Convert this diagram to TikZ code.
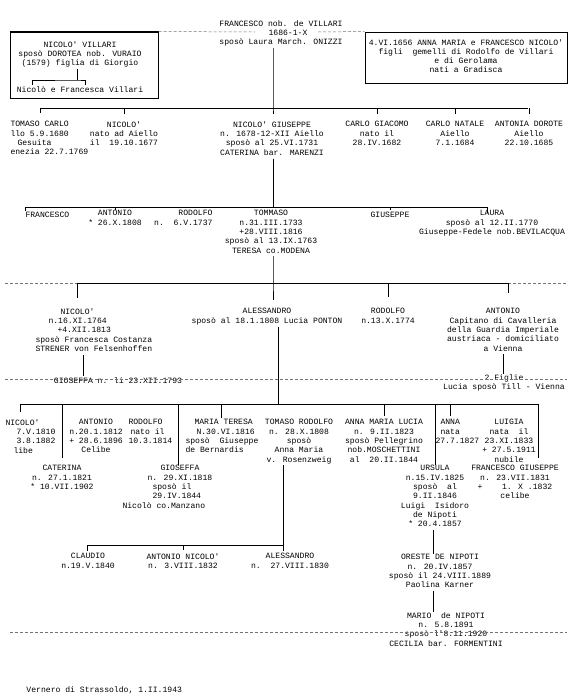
\documentclass[tikz,border=0pt]{standalone}
\usepackage{fontspec}
\newfontfamily\typewriter{Liberation Mono}
\newcommand{\scanfont}{\typewriter\fontsize{8.1}{9.3}\selectfont}
\usetikzlibrary{positioning}

\begin{document}
\begin{tikzpicture}[
        x=1pt, y=-1pt,
        every path/.style={line width=1pt}, % all connectors
        person/.style={font=\scanfont, align=center, anchor=north, inner sep=0pt, execute at begin node=\strut},
        personl/.style={person, align=left, anchor=north west},
        fold/.style={densely dashed, line width=0.5pt, black!55},
    ]
        \path[use as bounding box, fill=white] (0,0) rectangle (570,699);

        % Head of the family
        \node[person] (fran) at (281,20) {FRANCESCO nob. de VILLARI\\\hspace*{14pt}1686-1-X\\sposò Laura March. ONIZZI};

        % Left box
        \node[draw, minimum width=148pt, minimum height=66pt, inner sep=0pt] (lbox) at (84,65) {};
        \draw[line width=1.5pt] (lbox.north west) -- (lbox.north east);
        \node[person] (nv) at (80,41) {NICOLO' VILLARI\\sposò DOROTEA nob. VURAIO\\(1579) figlia di Giorgio};
        \node[person] (nfv) at (80,85) {Nicolò e Francesca Villari};
        \coordinate (nvb) at (77,80);
        \draw (nvb |- nv.south) -- (nvb);
        \draw ([xshift=-48pt]nfv.north) |- (nvb) -| ([xshift=5pt]nfv.north);

        % Right box
        \node[person, draw, anchor=center, minimum width=202pt, minimum height=51pt] (rbox) at (466,57.5)
            {4.VI.1656 ANNA MARIA e FRANCESCO NICOLO'\\figli\ \ gemelli di Rodolfo de Villari\\e di Gerolama\\nati a Gradisca};
        \draw[fold] (lbox.north east) -- (255,32);
        \draw[fold] (318,32) -- (rbox.north west);

        % First generation
        \coordinate (g1) at (273,108);
        \coordinate (g1a) at (40,108);
        \coordinate (g1b) at (528,108);
        \draw (g1a) -- (g1b);
        \draw (fran.south -| g1) -- (g1) -- ++(0,6);

        \node[personl] (tc) at (10,121) {TOMASO CARLO\\llo 5.9.1680\\\hspace*{7pt}Gesuita\\enezia 22.7.1769};
        \node[person] (n1) at (124,121) {NICOLO'\\nato ad Aiello\\il\ \ 19.10.1677};
        \node[person] (ng) at (272,121) {NICOLO' GIUSEPPE\\n. 1678-12-XII Aiello\\sposò al 25.VI.1731\\CATERINA bar. MARENZI};
        \node[person] (cg) at (377,121) {CARLO GIACOMO\\nato il\\28.IV.1682};
        \node[person] (cn) at (455,121) {CARLO NATALE\\Aiello\\7.1.1684};
        \node[person] (ad) at (529,121) {ANTONIA DOROTE\\Aiello\\22.10.1685};

        \draw (g1a) -- ++(0,5);
        \foreach \c in {n1,cg,cn,ad}
            \draw (\c.north |- g1) -- ++(0,6);

        % Second generation
        \coordinate (g2) at (273,207);
        \coordinate (g2a) at (25,207);
        \coordinate (g2b) at (487,207);
        \draw (ng.south -| g2) -- (g2);
        \draw (g2a) -- (g2b);

        \node[personl] (fr2) at (25,210) {FRANCESCO};
        \node[person] (an2) at (115,210) {ANTONIO\\* 26.X.1808};
        \node[person, align=right, anchor=north east] (ro2) at (213,210) {RODOLFO\\n.\ \ 6.V.1737};
        \node[person] (tom) at (271,210) {TOMMASO\\n.31.III.1733\\+28.VIII.1816\\sposò al 13.IX.1763\\TERESA co.MODENA};
        \node[person] (gi2) at (390,210) {GIUSEPPE};
        \node[person] (la) at (492,210) {LAURA\\sposò al 12.II.1770\\Giuseppe-Fedele nob.BEVILACQUA};

        \draw (g2a) -- ++(0,4);
        \draw (an2.north |- g2) -- ++(0,3);
        \draw (gi2.north |- g2) -- ++(0,3);
        \draw (g2b) -- ++(0,6);

        % Third generation
        \coordinate (g3) at (273,283);
        \coordinate (g3a) at (77,283);
        \coordinate (g3b) at (508,283);
        \draw (tom.south -| g3) -- (g3) -- ++(0,17);
        \draw (g3a) -- (g3b);
        \draw[fold] (5,283) -- (g3a);
        \draw[fold] (g3b) -- (567,283);

        \node[personl] (n3) at (35,308) {\hspace*{25pt}NICOLO'\\\hspace*{13pt}n.16.XI.1764\\\hspace*{22pt}+4.XII.1813\\sposò Francesca Costanza\\STRENER von Felsenhoffen};
        \node[person] (ale) at (267,308) {ALESSANDRO\\sposò al 18.1.1808 Lucia PONTON};
        \node[person] (ro3) at (388,308) {RODOLFO\\n.13.X.1774};
        \node[person] (ant) at (503,308) {ANTONIO\\Capitano di Cavalleria\\della Guardia Imperiale\\austriaca - domiciliato\\a Vienna};

        \draw (g3a) -- ++(0,15);
        \draw (ro3.north |- g3) -- ++(0,14);
        \draw (g3b) -- ++(0,10);

        \coordinate (gv) at (83,0);
        \node[person] (gio) at (118,376) {GIOSEFFA n. li 23.XII.1793};
        \draw (n3.south -| gv) -- (gio.north -| gv);
        \node[person] (fig) at (504,374) {2 Figlie\\Lucia sposò Till - Vienna};
        \draw (ant.south) -- (ant.south |- fig.north);
        \draw[fold] (5,379) -- (567,379);

        % Fourth generation
        \coordinate (g4) at (278,404);
        \coordinate (g4a) at (20,404);
        \coordinate (g4b) at (538,404);
        \coordinate (g4g) at (178,404);
        \coordinate (g4n) at (450,404);
        \draw (ale.south -| g4) -- (g4);
        \draw (g4a) -- (g4b);

        \node[personl] (n4) at (5,419) {NICOLO'\\\hspace*{11pt}7.V.1810\\\hspace*{11pt}3.8.1882\\\hspace*{8pt}libe};
        \node[person] (an4) at (96,419) {ANTONIO\\n.20.1.1812\\+ 28.6.1896\\Celibe};
        \node[personl] (ro4) at (128,419) {RODOLFO\\\hspace*{2pt}nato il\\10.3.1814};
        \node[personl] (mt) at (185,419) {\hspace*{9pt}MARIA TERESA\\\hspace*{11pt}N.30.VI.1816\\sposò\ \ Giuseppe\\de Bernardis};
        \node[person] (tr) at (299,419) {TOMASO RODOLFO\\n. 28.X.1808\\sposò\\Anna Maria\\v. Rosenzweig};
        \node[person] (aml) at (384,419) {ANNA MARIA LUCIA\\n. 9.II.1823\\sposò Pellegrino\\nob.MOSCHETTINI\\al\ \ 20.II.1844};
        \node[personl] (anna) at (435,419) {\hspace*{5pt}ANNA\\\hspace*{5pt}nata\\27.7.1827};
        \node[person] (lui) at (509,419) {LUIGIA\\nata\ \ il\\23.XI.1833\\+ 27.5.1911\\nubile};

        \node[person] (cat) at (62,465) {CATERINA\\n. 27.1.1821\\* 10.VII.1902};
        \node[personl] (gio4) at (122,465) {\hspace*{38pt}GIOSEFFA\\\hspace*{25pt}n. 29.XI.1818\\\hspace*{30pt}sposò il\\\hspace*{30pt}29.IV.1844\\Nicolò co.Manzano};
        \node[person] (urs) at (435,465) {URSULA\\n.15.IV.1825\\sposò\ \ al\\9.II.1846\\Luigi\ \ Isidoro\\de Nipoti\\* 20.4.1857};
        \node[person] (fg) at (515,465) {FRANCESCO GIUSEPPE\\n. 23.VII.1831\\+\ \ \ \ 1. X .1832\\celibe};

        \draw (g4a) -- ++(0,8);
        \draw (cat.north |- g4) -- ++(0,54);
        \draw (g4g) -- (g4g |- gio4.north);
        \draw (mt.north |- g4) -- ++(0,14);
        \draw (aml.north |- g4) -- ++(0,12);
        \draw (g4n) -- ++(0,12);
        \draw (urs.north |- g4) -- (urs.north);
        \draw (g4b) -- ++(0,54);

        % Fifth generation
        \coordinate (g5) at (283,545);
        \coordinate (g5a) at (87,545);
        \draw (tr.south -| g5) -- (g5);
        \draw (g5a) -- (g5);

        \node[person] (cla) at (88,553) {CLAUDIO\\n.19.V.1840};
        \node[person] (anic) at (183,553) {ANTONIO NICOLO'\\n. 3.VIII.1832};
        \node[person] (ale5) at (290,553) {ALESSANDRO\\n.\ \ 27.VIII.1830};

        \draw (g5a) -- ++(0,6);
        \draw (anic.north |- g5) -- ++(0,5);
        \draw (g5) -- ++(0,6);

        % De Nipoti line
        \coordinate (uv) at (433,0);
        \node[person] (ore) at (440,554) {ORESTE DE NIPOTI\\n. 20.IV.1857\\sposò il 24.VIII.1889\\Paolina Karner};
        \draw (urs.south -| uv) -- (ore.north -| uv);
        \node[person] (mar) at (446,612) {MARIO\ \ de NIPOTI\\n. 5.8.1891\\sposò l'8.11.1920\\CECILIA bar. FORMENTINI};
        \draw (ore.south -| uv) -- (mar.north -| uv);
        \draw[fold] (10,632) -- (567,632);

        \node[personl] (sig) at (26,685) {Vernero di Strassoldo, 1.II.1943};

    \end{tikzpicture}
\end{document}
